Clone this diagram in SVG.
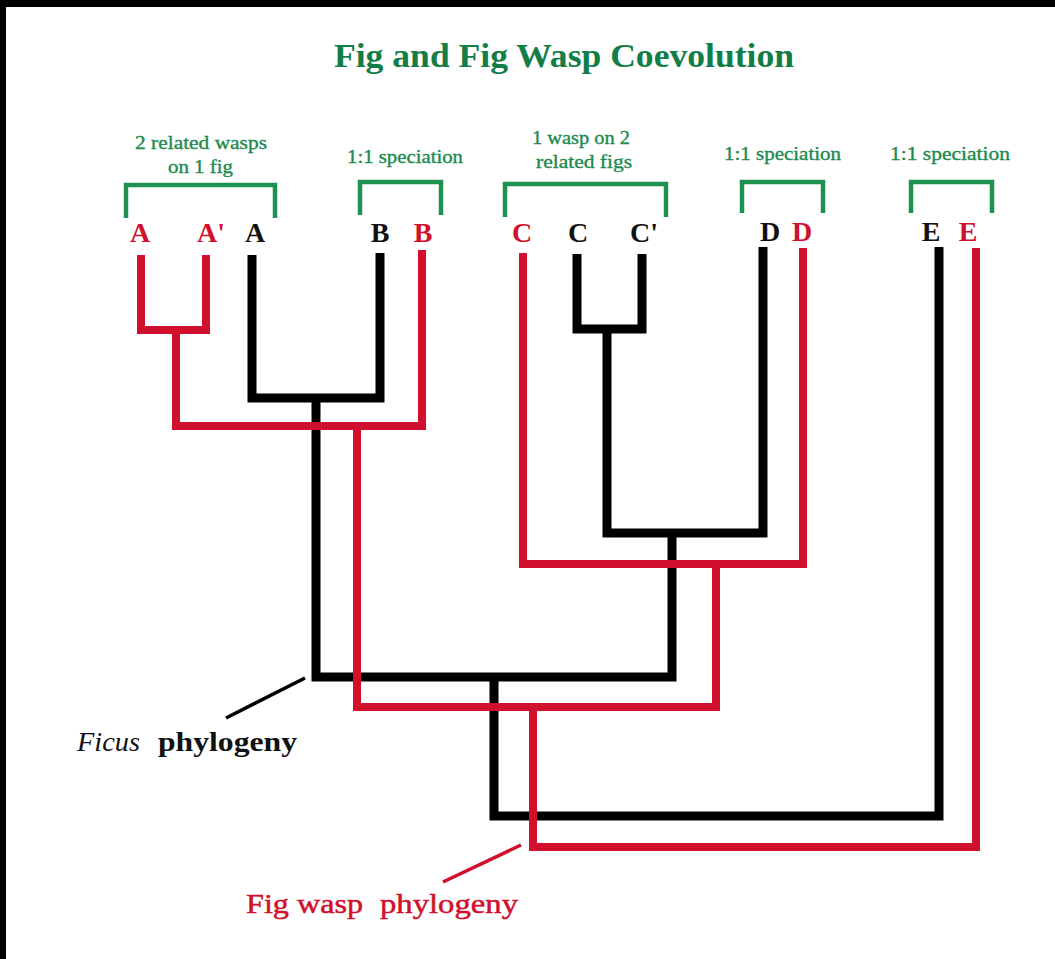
<svg xmlns="http://www.w3.org/2000/svg" width="1055" height="959" viewBox="0 0 1055 959">
<style>
  .bg{fill:#ffffff}
  .frame{fill:#000000}
  .title{font-family:"Liberation Serif",serif;font-weight:bold;font-size:34px;fill:#127d46}
  .note{font-family:"Liberation Serif",serif;font-size:18px;fill:#1d8a4e;stroke:#1d8a4e;stroke-width:0.35}
  .bracket{fill:none;stroke:#1d9150;stroke-width:4.5;stroke-linejoin:miter}
  .leaf{font-family:"Liberation Serif",serif;font-weight:bold;font-size:28px;text-anchor:middle}
  .lk{fill:#111111}
  .lr{fill:#d0102c}
  .fig{fill:none;stroke:#000000;stroke-width:9;stroke-linejoin:miter;stroke-linecap:butt}
  .wasp{fill:none;stroke:#d0102c;stroke-width:8;stroke-linejoin:miter;stroke-linecap:butt}
  .lead-k{stroke:#000000;stroke-width:3.5}
  .lead-r{stroke:#d0102c;stroke-width:3.5}
  .cap{font-family:"Liberation Serif",serif;font-size:28px}
</style>
<rect class="bg" x="0" y="0" width="1055" height="959"/>
<rect class="frame" x="0" y="0" width="1055" height="7"/>
<rect class="frame" x="0" y="0" width="6" height="959"/>

<g id="title">
  <text class="title" x="334" y="67" textLength="460" lengthAdjust="spacingAndGlyphs">Fig and Fig Wasp Coevolution</text>
</g>

<g id="note-A">
  <text class="note" x="135" y="149" textLength="132" lengthAdjust="spacingAndGlyphs">2 related wasps</text>
  <text class="note" x="168" y="173" textLength="65" lengthAdjust="spacingAndGlyphs">on 1 fig</text>
  <path class="bracket" d="M126 218 V185 H275 V218"/>
</g>
<g id="note-B">
  <text class="note" x="347" y="163" textLength="116" lengthAdjust="spacingAndGlyphs">1:1 speciation</text>
  <path class="bracket" d="M360 215 V182 H441 V215"/>
</g>
<g id="note-C">
  <text class="note" x="532" y="144" textLength="98" lengthAdjust="spacingAndGlyphs">1 wasp on 2</text>
  <text class="note" x="536" y="168" textLength="96" lengthAdjust="spacingAndGlyphs">related figs</text>
  <path class="bracket" d="M505 217 V184 H666 V217"/>
</g>
<g id="note-D">
  <text class="note" x="724" y="160" textLength="117" lengthAdjust="spacingAndGlyphs">1:1 speciation</text>
  <path class="bracket" d="M742 213 V182 H823 V213"/>
</g>
<g id="note-E">
  <text class="note" x="890" y="160" textLength="120" lengthAdjust="spacingAndGlyphs">1:1 speciation</text>
  <path class="bracket" d="M911 213 V182 H992 V213"/>
</g>

<g id="leaves">
  <text id="leaf-A-wasp" class="leaf lr" x="140" y="242">A</text>
  <text id="leaf-A2-wasp" class="leaf lr" x="211" y="242">A'</text>
  <text id="leaf-A-fig" class="leaf lk" x="255" y="242">A</text>
  <text id="leaf-B-fig" class="leaf lk" x="380" y="242">B</text>
  <text id="leaf-B-wasp" class="leaf lr" x="423" y="242">B</text>
  <text id="leaf-C-wasp" class="leaf lr" x="522" y="242">C</text>
  <text id="leaf-C-fig" class="leaf lk" x="578" y="242">C</text>
  <text id="leaf-C2-fig" class="leaf lk" x="644" y="242">C'</text>
  <text id="leaf-D-fig" class="leaf lk" x="770" y="241">D</text>
  <text id="leaf-D-wasp" class="leaf lr" x="802" y="241">D</text>
  <text id="leaf-E-fig" class="leaf lk" x="931" y="241">E</text>
  <text id="leaf-E-wasp" class="leaf lr" x="968" y="241">E</text>
</g>

<g id="connectors">
  <g id="ficus-tree">
    <path class="fig" d="M252 255 V398 H380 V253"/>
    <path class="fig" d="M577 254 V329 H642 V254"/>
    <path class="fig" d="M607 329 V533 H763 V247"/>
    <path class="fig" d="M316 398 V677 H672 V533"/>
    <path class="fig" d="M494 677 V816 H939 V247"/>
  </g>
  <g id="wasp-tree">
    <path class="wasp" d="M141 255 V330 H206 V255"/>
    <path class="wasp" d="M176 330 V426 H422 V250"/>
    <path class="wasp" d="M523 253 V564 H803 V248"/>
    <path class="wasp" d="M357 426 V707 H716 V564"/>
    <path class="wasp" d="M533 707 V847 H976 V248"/>
  </g>
  <line class="lead-k" x1="305" y1="678" x2="226" y2="718"/>
  <line class="lead-r" x1="521" y1="845" x2="443" y2="882"/>
</g>

<g id="label-ficus">
  <text class="cap" x="77" y="751" fill="#111111"><tspan font-style="italic" textLength="63" lengthAdjust="spacingAndGlyphs">Ficus</tspan><tspan x="158" font-weight="bold" textLength="139" lengthAdjust="spacingAndGlyphs">phylogeny</tspan></text>
</g>
<g id="label-wasp">
  <text class="cap" x="246" y="913" fill="#d0102c" stroke="#d0102c" stroke-width="0.5"><tspan textLength="117" lengthAdjust="spacingAndGlyphs">Fig wasp</tspan><tspan x="380" textLength="138" lengthAdjust="spacingAndGlyphs">phylogeny</tspan></text>
</g>
</svg>
